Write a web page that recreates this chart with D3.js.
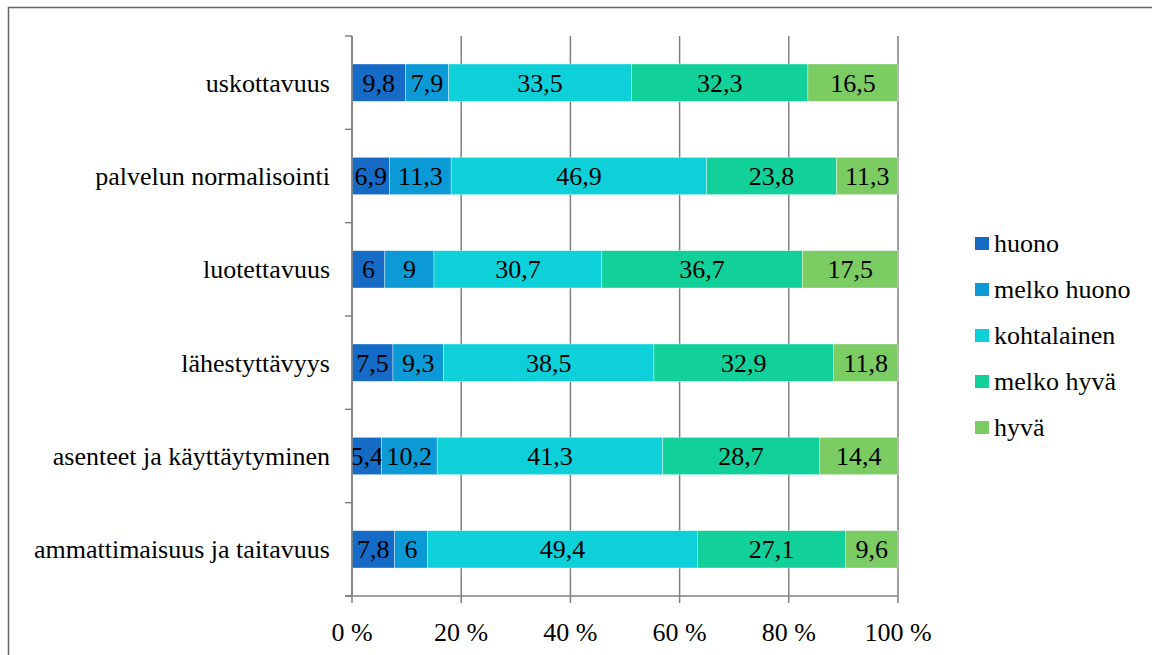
<!DOCTYPE html>
<html><head><meta charset="utf-8">
<script src="https://cdn.jsdelivr.net/npm/d3@7"></script>
<style>body{margin:0;background:#fff;font-family:'Liberation Serif','Times New Roman',serif}svg{display:block}svg text{font-family:'Times New Roman','Liberation Serif',Tinos,serif !important}</style>
</head><body>
<script>
const categories = ["uskottavuus","palvelun normalisointi","luotettavuus","lähestyttävyys","asenteet ja käyttäytyminen","ammattimaisuus ja taitavuus"];
const seriesNames = ["huono","melko huono","kohtalainen","melko hyvä","hyvä"];
const huono = [9.8,6.9,6,7.5,5.4,7.8];
const melkoHuono = [7.9,11.3,9,9.3,10.2,6];
const kohtalainen = [33.5,46.9,30.7,38.5,41.3,49.4];
const melkoHyva = [32.3,23.8,36.7,32.9,28.7,27.1];
const hyva = [16.5,11.3,17.5,11.8,14.4,9.6];
const tickValues = [0,20,40,60,80,100];
const colors = ["#156BC5","#0B9AD6","#0ED0D9","#12D09A","#7CCC64"];

const W=1152,H=655;
const FONT="Times New Roman";
const FS=26;
const svg=d3.select("body").append("svg").attr("width",W).attr("height",H).attr("font-family",FONT);
function txt(sel){return sel.attr("font-family",FONT).attr("font-size",FS).attr("fill","#000");}

// frame
svg.append("path").attr("d",`M8.5,${H} V7.5 H${W}`).attr("fill","none").attr("stroke","#666").attr("stroke-width",1.5);

const x=d3.scaleLinear().domain([0,100]).range([352,898]);
const y=d3.scaleBand().domain(categories).range([36,596]).paddingInner(0.6).paddingOuter(0.3);
const band=(596-36)/categories.length;

const series=[huono,melkoHuono,kohtalainen,melkoHyva,hyva];
const rows=categories.map((c,i)=>{const o={cat:c};seriesNames.forEach((s,j)=>o[s]=series[j][i]);return o;});
const stacked=d3.stack().keys(seriesNames).offset(d3.stackOffsetExpand)(rows);

// gridlines
svg.append("g").selectAll("line").data(tickValues).join("line")
 .attr("x1",d=>x(d)).attr("x2",d=>x(d)).attr("y1",36).attr("y2",603)
 .attr("stroke","#808080").attr("stroke-width",1.5);

// bars
const g=svg.append("g");
stacked.forEach((s,j)=>{
  g.selectAll(null).data(s).join("rect")
   .attr("x",d=>x(d[0]*100)).attr("width",d=>x(d[1]*100)-x(d[0]*100))
   .attr("y",d=>y(d.data.cat)).attr("height",y.bandwidth())
   .attr("fill",colors[j]).attr("stroke","rgba(255,255,255,0.6)").attr("stroke-width",0.6);
  txt(g.selectAll(null).data(s).join("text"))
   .attr("x",d=>(x(d[0]*100)+x(d[1]*100))/2).attr("y",d=>y(d.data.cat)+y.bandwidth()/2+9)
   .attr("text-anchor","middle")
   .text(d=>String(d.data[seriesNames[j]]).replace(".",","));
});

// axes
const ax=svg.append("g").attr("stroke","#808080").attr("stroke-width",1.5);
ax.append("line").attr("x1",352).attr("x2",352).attr("y1",36).attr("y2",596);
ax.selectAll(null).data(d3.range(categories.length+1)).join("line")
  .attr("x1",345).attr("x2",352).attr("y1",i=>36+i*band).attr("y2",i=>36+i*band);
ax.append("line").attr("x1",345).attr("x2",898).attr("y1",596).attr("y2",596);

txt(svg.append("g").selectAll("text").data(categories).join("text"))
 .attr("x",330).attr("y",d=>y(d)+y.bandwidth()/2+9).attr("text-anchor","end")
 .text(d=>d);

txt(svg.append("g").selectAll("text").data(tickValues).join("text"))
 .attr("x",d=>x(d)).attr("y",641).attr("text-anchor","middle")
 .text(d=>d+" %");

// legend
const lg=svg.append("g");
seriesNames.forEach((s,j)=>{
  const cy=243+j*46;
  lg.append("rect").attr("x",975).attr("y",cy-6).attr("width",14).attr("height",13).attr("fill",colors[j]);
  txt(lg.append("text")).attr("x",994).attr("y",cy+9).text(s);
});
</script>
</body></html>
